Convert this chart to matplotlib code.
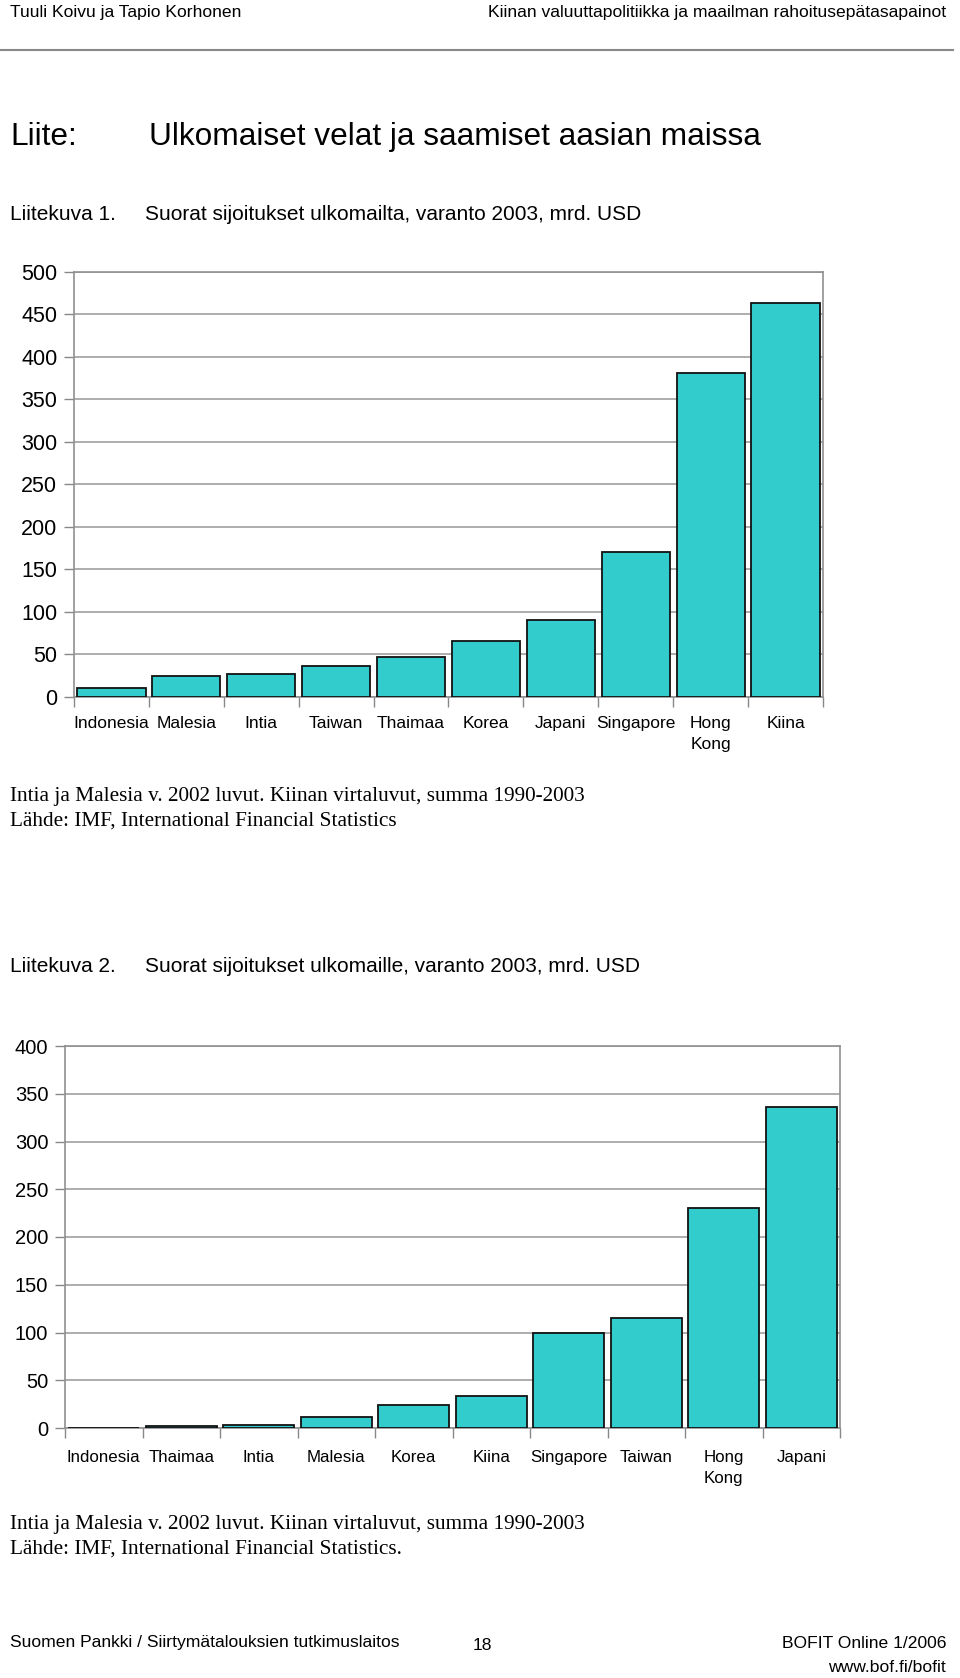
import matplotlib
matplotlib.use("Agg")
import matplotlib.pyplot as plt
import numpy as np

# Data
maat_1 = ["Indonesia", "Malesia", "Intia", "Taiwan", "Thaimaa", "Korea",
          "Japani", "Singapore", "Hong\nKong", "Kiina"]
arvot_1 = [10, 24.5, 26.5, 36, 47, 66, 90.5, 170.5, 381, 463]
yticks_1 = [0, 50, 100, 150, 200, 250, 300, 350, 400, 450, 500]

maat_2 = ["Indonesia", "Thaimaa", "Intia", "Malesia", "Korea", "Kiina",
          "Singapore", "Taiwan", "Hong\nKong", "Japani"]
arvot_2 = [0, 2, 3.5, 11, 24.5, 33.5, 99.5, 115.5, 230, 336]
yticks_2 = [0, 50, 100, 150, 200, 250, 300, 350, 400]

BAR = "#33CCCC"
SANS = ["Liberation Sans", "DejaVu Sans"]
SERIF = ["Liberation Serif", "DejaVu Serif"]

W, H = 960, 1678
fig = plt.figure(figsize=(W / 100, H / 100), dpi=100)


def px(x, y):
    """ pixel coords (top-left origin) -> figure fraction """
    return x / W, 1 - y / H


def txt(x, y, s, size, family, ha="left", va="center"):
    fx, fy = px(x, y)
    fig.text(fx, fy, s, fontsize=size, family=family, ha=ha, va=va)


def bar_chart(left, top, right, bottom, labels, values, ticks, ysize, xsize, xpad):
    """ Excel-style bar chart placed in pixel box """
    ax = fig.add_axes([left / W, 1 - bottom / H, (right - left) / W, (bottom - top) / H])
    x = np.arange(len(values))
    ax.bar(x, values, width=0.91, color=BAR, edgecolor="#111111", linewidth=1.3, zorder=3)
    ax.set_xlim(-0.5, len(values) - 0.5)
    ax.set_ylim(ticks[0], ticks[-1])
    ax.set_yticks(ticks)
    ax.set_yticklabels([str(t) for t in ticks], family=SANS, fontsize=ysize)
    ax.set_xticks(x)
    ax.set_xticklabels(labels, family=SANS, fontsize=xsize, linespacing=1.5, va="top")
    ax.set_xticks(np.arange(-0.5, len(values)), minor=True)
    ax.tick_params(axis="x", which="major", length=0, pad=xpad)
    ax.tick_params(axis="x", which="minor", length=7, color="#888888", width=1)
    ax.tick_params(axis="y", length=7, color="#888888", width=1, pad=5)
    ax.grid(axis="y", color="#a0a0a0", linewidth=1.2, zorder=0)
    for sp in ax.spines.values():
        sp.set_color("#909090")
        sp.set_linewidth(1.2)
    return ax


# Header
txt(10, 12, "Tuuli Koivu ja Tapio Korhonen", 12.6, SANS)
txt(946, 12, "Kiinan valuuttapolitiikka ja maailman rahoitusepätasapainot", 12.6, SANS, ha="right")
fig.add_artist(plt.Line2D([0, 953 / W], [1 - 50 / H] * 2, color="#888888", linewidth=1.5))

txt(10, 137, "Liite:", 22.8, SANS)
txt(149, 137, "Ulkomaiset velat ja saamiset aasian maissa", 22.8, SANS)

# Figure 1
txt(10, 214, "Liitekuva 1.", 15, SANS)
txt(145, 214, "Suorat sijoitukset ulkomailta, varanto 2003, mrd. USD", 15, SANS)
bar_chart(74, 272, 823, 697, maat_1, arvot_1, yticks_1, 15.5, 12.5, 13.5)
txt(10, 796, "Intia ja Malesia v. 2002 luvut. Kiinan virtaluvut, summa 1990-2003", 15.3, SERIF)
txt(10, 821, "Lähde: IMF, International Financial Statistics", 15.3, SERIF)

# Figure 2
txt(10, 966, "Liitekuva 2.", 15, SANS)
txt(145, 966, "Suorat sijoitukset ulkomaille, varanto 2003, mrd. USD", 15, SANS)
bar_chart(65, 1046, 840, 1428, maat_2, arvot_2, yticks_2, 14.5, 12.2, 16)
txt(10, 1525, "Intia ja Malesia v. 2002 luvut. Kiinan virtaluvut, summa 1990-2003", 15.3, SERIF)
txt(10, 1549, "Lähde: IMF, International Financial Statistics.", 15.3, SERIF)

# Footer
txt(10, 1643, "Suomen Pankki / Siirtymätalouksien tutkimuslaitos", 12.6, SANS)
txt(482, 1645, "18", 12.6, SANS, ha="center")
txt(946, 1643, "BOFIT Online 1/2006", 12.6, SANS, ha="right")
txt(946, 1667, "www.bof.fi/bofit", 12.6, SANS, ha="right")

fig.savefig("out.png", dpi=100)
